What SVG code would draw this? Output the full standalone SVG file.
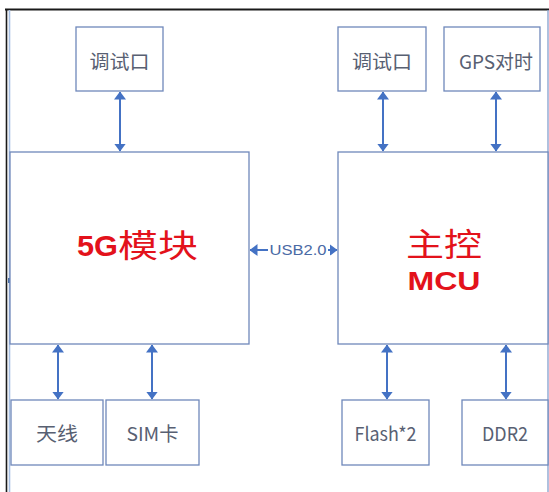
<svg xmlns="http://www.w3.org/2000/svg" width="549" height="492" viewBox="0 0 549 492">
  <style>
    .box { fill: #ffffff; stroke: #6f88bb; stroke-width: 1.3; }
    .lbl { font-family: "Noto Sans CJK SC", "Liberation Sans", sans-serif; font-size: 19px; fill: #586072; text-anchor: middle; }
    .big { font-family: "Liberation Sans", "Noto Sans CJK SC", sans-serif; fill: #e3121b; }
    .link { stroke: #4472c4; stroke-width: 2; fill: none; marker-start: url(#head); marker-end: url(#head); }
  </style>
  <defs>
    <marker id="head" viewBox="0 0 8 12" refX="7.5" refY="6" markerWidth="8" markerHeight="12" markerUnits="userSpaceOnUse" orient="auto-start-reverse">
      <path d="M0,0 L8,6 L0,12 z" fill="#4472c4"/>
    </marker>
  </defs>

  <rect width="549" height="492" fill="#ffffff"/>

  <!-- outer frame -->
  <g id="frame">
    <line x1="5" y1="9.5" x2="549" y2="9.5" stroke="#1a1a1a" stroke-width="1.8"/>
    <line x1="6.5" y1="9" x2="6.5" y2="492" stroke="#1a1a1a" stroke-width="1.6"/>
    <line x1="9.5" y1="10" x2="9.5" y2="492" stroke="#a7c0e4" stroke-width="1.6"/>
    <line x1="548" y1="10" x2="548" y2="492" stroke="#8ea6d1" stroke-width="1.4"/>
    <rect x="8" y="278" width="6" height="5" fill="#4a6fa8"/>
  </g>

  <!-- 5G module -->
  <g id="module5g">
    <rect class="box" x="10" y="152" width="239" height="192"/>
    <text class="big" x="77" y="256" font-size="30" font-weight="bold" textLength="41" lengthAdjust="spacingAndGlyphs">5G</text>
    <text class="big" x="118" y="257" font-size="32" font-family="'Noto Sans CJK SC', sans-serif" textLength="80" lengthAdjust="spacingAndGlyphs">模块</text>
  </g>

  <!-- main controller -->
  <g id="mcu">
    <rect class="box" x="338" y="152" width="210" height="192"/>
    <text class="big" x="444" y="256" font-size="32" text-anchor="middle" font-family="'Noto Sans CJK SC', sans-serif" textLength="76" lengthAdjust="spacingAndGlyphs">主控</text>
    <text class="big" x="444" y="290" font-size="25" font-weight="bold" text-anchor="middle" textLength="73" lengthAdjust="spacingAndGlyphs">MCU</text>
  </g>

  <g id="debug1">
    <rect class="box" x="76" y="27" width="87" height="64"/>
    <text class="lbl" x="119.5" y="68.5" font-size="20" textLength="60" lengthAdjust="spacingAndGlyphs">调试口</text>
  </g>
  <g id="debug2">
    <rect class="box" x="338" y="27" width="88" height="64"/>
    <text class="lbl" x="382" y="68.5" font-size="20" textLength="60" lengthAdjust="spacingAndGlyphs">调试口</text>
  </g>
  <g id="gps">
    <rect class="box" x="444" y="27" width="96" height="64"/>
    <text class="lbl" x="496" y="69" textLength="74" lengthAdjust="spacingAndGlyphs">GPS对时</text>
  </g>
  <g id="antenna">
    <rect class="box" x="11" y="400" width="92" height="65"/>
    <text class="lbl" x="57" y="441" textLength="42" lengthAdjust="spacingAndGlyphs">天线</text>
  </g>
  <g id="sim">
    <rect class="box" x="106" y="400" width="93" height="65"/>
    <text class="lbl" x="152.5" y="441" textLength="52" lengthAdjust="spacingAndGlyphs">SIM卡</text>
  </g>
  <g id="flash">
    <rect class="box" x="342" y="400" width="87" height="65"/>
    <text class="lbl" x="385.5" y="441" textLength="62" lengthAdjust="spacingAndGlyphs">Flash*2</text>
  </g>
  <g id="ddr2">
    <rect class="box" x="462" y="400" width="86" height="65"/>
    <text class="lbl" x="505" y="441" textLength="46" lengthAdjust="spacingAndGlyphs">DDR2</text>
  </g>

  <!-- connectors -->
  <g id="connectors">
    <line class="link" x1="120" y1="92" x2="120" y2="151"/>
    <line class="link" x1="383" y1="92" x2="383" y2="151"/>
    <line class="link" x1="496" y1="92" x2="496" y2="151"/>
    <line class="link" x1="58" y1="345" x2="58" y2="399"/>
    <line class="link" x1="152" y1="345" x2="152" y2="399"/>
    <line class="link" x1="387" y1="345" x2="387" y2="399"/>
    <line class="link" x1="506" y1="345" x2="506" y2="399"/>
    <line class="link" x1="250" y1="250" x2="337" y2="250"/>
    <rect x="268" y="242" width="60" height="16" fill="#ffffff"/>
    <text x="298" y="255" font-family="'Liberation Sans', sans-serif" font-size="14" fill="#4a6aa5" text-anchor="middle" textLength="57" lengthAdjust="spacingAndGlyphs">USB2.0</text>
  </g>
</svg>
